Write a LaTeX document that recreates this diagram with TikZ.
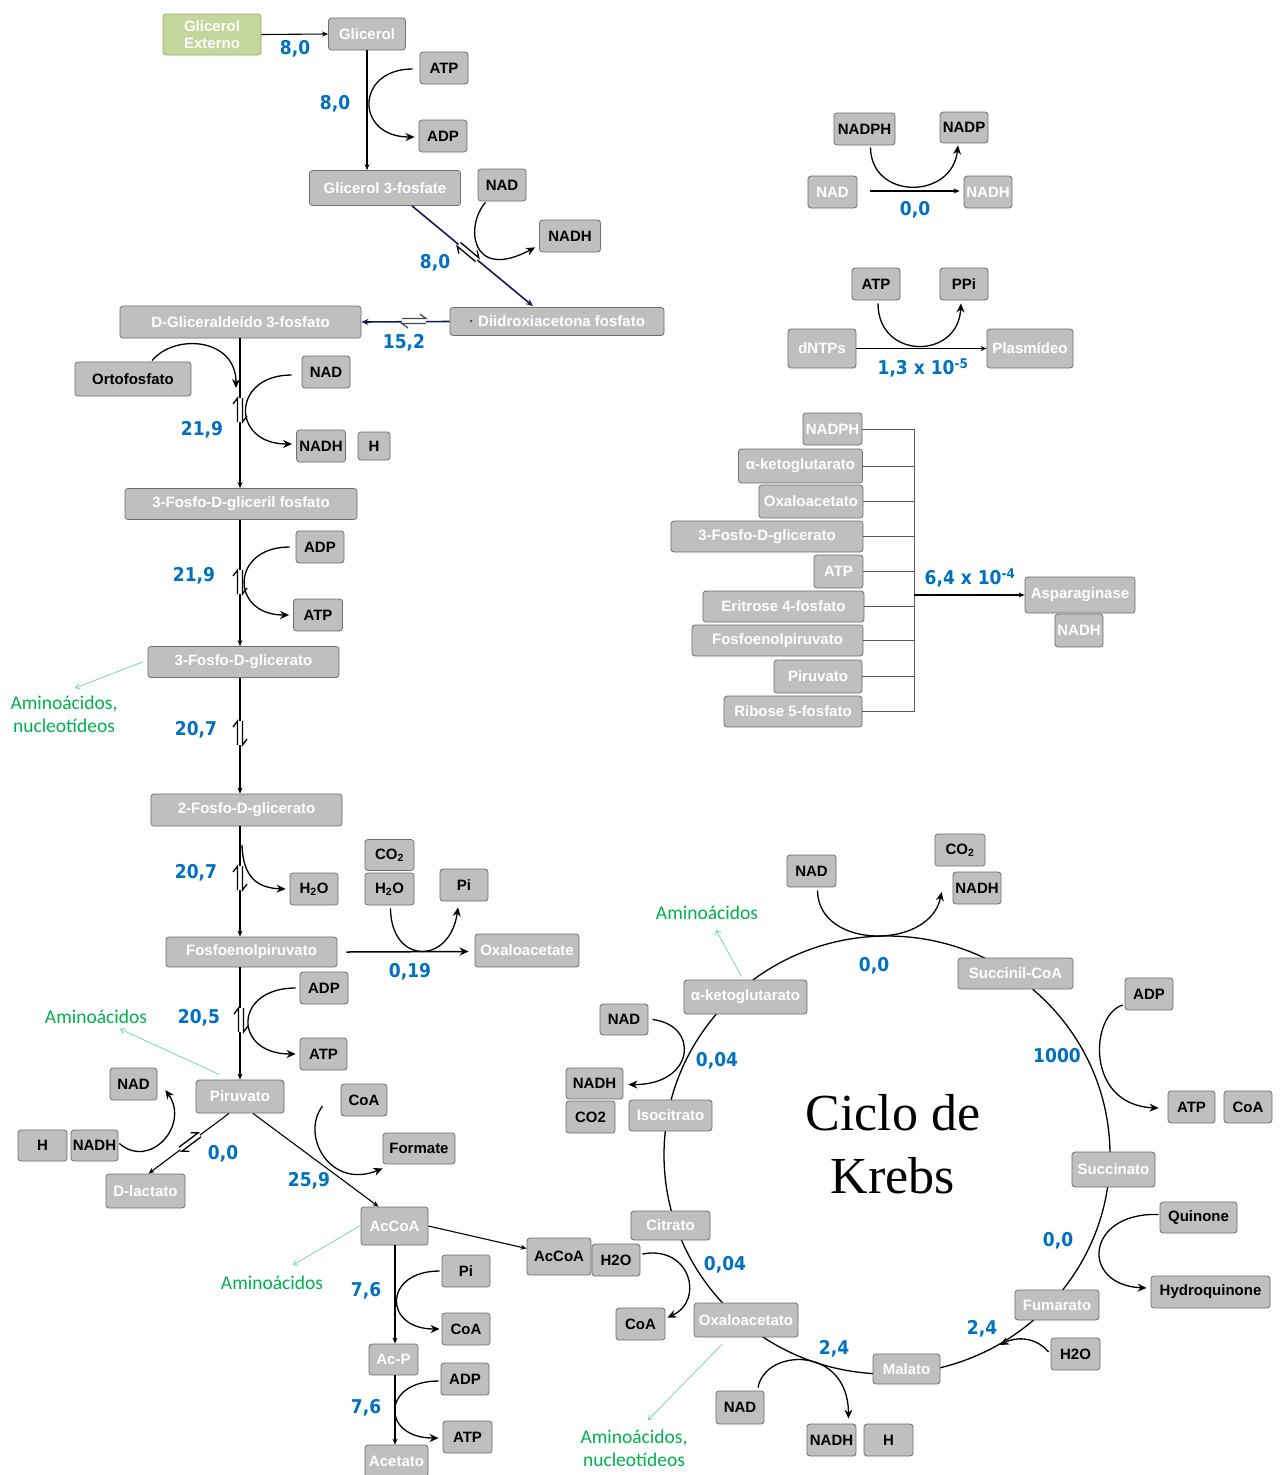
\documentclass[tikz,border=0pt]{standalone}
\usepackage{fontspec}
\setmainfont{Liberation Sans}
\newfontfamily\numfont[FakeStretch=0.9]{DejaVu Sans}
\newfontfamily\grfont{Carlito}
\newfontfamily\krebsfont{Liberation Serif}
\usetikzlibrary{arrows.meta,calc}
\definecolor{boxfill}{HTML}{BFBFBF}
\definecolor{boxline}{HTML}{6E6E6E}
\definecolor{gfill}{HTML}{C3D69B}
\definecolor{gline}{HTML}{98B060}
\definecolor{numblue}{HTML}{0070C0}
\definecolor{grtext}{HTML}{00B050}
\definecolor{grline}{HTML}{66D98F}
\definecolor{navyl}{HTML}{17175E}
\definecolor{busgray}{HTML}{595959}
\newcommand\eqmark[4][black]{\begin{scope}[shift={(#2,#3)},rotate=#4]
 \fill[white] (-12,-5) rectangle (12,5);
 \draw[#1, line width=1.3pt] (-12,-2.5) -- (12,-2.5) -- (6,-7);
 \draw[#1, line width=1.3pt] (12,2.5) -- (-12,2.5) -- (-6,7);
\end{scope}}
\begin{document}
\begin{tikzpicture}[x=1pt,y=-1pt,
 mb/.style={draw=boxline, fill=boxfill, rounded corners=3pt, line width=0.8pt, inner sep=0pt, text=white, font=\bfseries\fontsize{15}{17}\selectfont, align=center},
 cb/.style={mb, text=black},
 sz/.style 2 args={minimum width=#1pt, minimum height=#2pt},
 num/.style={text=numblue, inner sep=0pt, font=\numfont\bfseries\fontsize{19}{21}\selectfont},
 grn/.style={text=grtext, inner sep=0pt, align=center, font=\grfont\fontsize{19.5}{23}\selectfont},
 ar/.style={-{Stealth[length=6pt,width=5pt]}, line width=1.1pt},
 car/.style={-{Stealth[length=9pt,width=8pt]}, line width=1.3pt},
 nar/.style={-{Stealth[length=7pt,width=6pt]}, line width=1.6pt, draw=navyl, color=navyl},
 garr/.style={-{Straight Barb[length=4pt,width=6pt]}, draw=grline, line width=0.7pt},
 bus/.style={draw=busgray, line width=0.7pt},
]
\useasboundingbox (0,0) rectangle (1283,1475);
\fill[white] (0,0) rectangle (1283,1475);

% Krebs cycle ring
\draw[line width=1.3pt] (887,1155) ellipse [x radius=223, y radius=219];
\node[inner sep=0pt, font=\krebsfont\fontsize{52}{60}\selectfont] (kt1) at (893,1113) {Ciclo de};
\node[inner sep=0pt, font=\krebsfont\fontsize{52}{60}\selectfont] (kt2) at (893,1176) {Krebs};

% ---------- left pathway nodes ----------
\node[mb, fill=gfill, draw=gline, sz={98}{41}] (gext) at (212,34.5) {Glicerol\\Externo};
\node[mb, sz={77}{32}] (gly) at (367,34) {Glicerol};
\node[cb, sz={48}{32}] (atp1) at (444,68) {ATP};
\node[cb, sz={48}{32}] (adp1) at (443,136) {ADP};
\node[mb, sz={151}{35}] (g3p) at (385,188) {Glicerol 3-fosfate};
\node[cb, sz={48}{32}] (nad1) at (502,185) {NAD};
\node[cb, sz={61}{32}] (nadh1) at (570,236) {NADH};
\node[mb, sz={214}{28}] (dhap) at (557,321.5) {\textcolor{black!70}{·} Diidroxiacetona fosfato};
\node[mb, sz={241}{32}] (gap) at (240.5,322) {D-Gliceraldeído 3-fosfato};
\node[cb, sz={116}{34}] (orto) at (133,379) {Ortofosfato};
\node[cb, sz={48}{32}] (nad2) at (326,372) {NAD};
\node[cb, sz={49}{32}] (nadh2) at (321,446) {NADH};
\node[cb, sz={32}{28}] (h1) at (374,446) {H};
\node[mb, sz={232}{31}] (pgp) at (241,504) {3-Fosfo-D-gliceril fosfato};
\node[cb, sz={48}{32}] (adp2) at (320,547) {ADP};
\node[cb, sz={49}{32}] (atp2) at (318,615) {ATP};
\node[mb, sz={191}{31}] (pg3) at (243.5,662) {3-Fosfo-D-glicerato};
\node[mb, sz={191}{32}] (pg2) at (246.5,810) {2-Fosfo-D-glicerato};
\node[cb, sz={48}{32}] (h2o1) at (314,889) {H\textsubscript{2}O};
\node[cb, sz={49}{31}] (co2a) at (389.5,855) {CO\textsubscript{2}};
\node[cb, sz={49}{32}] (h2o2) at (389.5,889) {H\textsubscript{2}O};
\node[cb, sz={48}{32}] (pi1) at (464,885) {Pi};
\node[mb, sz={171}{30}] (pep) at (251.5,952) {Fosfoenolpiruvato};
\node[mb, sz={104}{33}] (oxa1) at (527,950.5) {Oxaloacetate};
\node[cb, sz={48}{32}] (adp3) at (324,988) {ADP};
\node[cb, sz={47}{32}] (atp3) at (323.5,1054) {ATP};
\node[mb, sz={88}{33}] (pir) at (240,1096.5) {Piruvato};
\node[cb, sz={47}{32}] (nad3) at (133.5,1084) {NAD};
\node[cb, sz={49}{31}] (h2) at (42.5,1145.5) {H};
\node[cb, sz={47}{31}] (nadh3) at (94.5,1145.5) {NADH};
\node[mb, sz={79}{34}] (lac) at (145.5,1191) {D-lactato};
\node[cb, sz={46}{32}] (coa1) at (364,1100) {CoA};
\node[cb, sz={72}{31}] (form) at (419,1148.5) {Formate};
\node[mb, sz={67}{38}] (acc1) at (394.5,1226) {AcCoA};
\node[cb, sz={48}{32}] (pi2) at (466,1271) {Pi};
\node[cb, sz={48}{32}] (coa2) at (466,1329) {CoA};
\node[mb, sz={49}{31}] (acp) at (393.5,1359.5) {Ac-P};
\node[cb, sz={48}{32}] (adp4) at (465,1379) {ADP};
\node[cb, sz={49}{32}] (atp4) at (467.5,1437) {ATP};
\node[mb, sz={63}{32}] (acet) at (396.5,1461) {Acetato};

% ---------- top right ----------
\node[cb, sz={61}{32}] (nadph1) at (864.5,129) {NADPH};
\node[cb, sz={48}{31}] (nadp1) at (964,127.5) {NADP};
\node[mb, sz={49}{32}] (nad4) at (832.5,192) {NAD};
\node[mb, sz={48}{32}] (nadh4) at (988,192) {NADH};
\node[cb, sz={48}{32}] (atp5) at (876,284) {ATP};
\node[cb, sz={48}{32}] (ppi) at (964,284) {PPi};
\node[mb, sz={68}{39}] (dntp) at (822,348.5) {dNTPs};
\node[mb, sz={86}{39}] (plas) at (1030,348.5) {Plasmídeo};

% ---------- middle right ----------
\node[mb, sz={59}{32}] (r1) at (832.5,429) {NADPH};
\node[mb, sz={124}{34}] (r2) at (800.5,466) {α-ketoglutarato};
\node[mb, sz={104}{33}] (r3) at (811,501.5) {Oxaloacetato};
\node[mb, sz={192}{31}] (r4) at (767,536.5) {3-Fosfo-D-glicerato};
\node[mb, sz={49}{33}] (r5) at (838.5,571.5) {ATP};
\node[mb, sz={161}{31}] (r6) at (783.5,606.5) {Eritrose 4-fosfato};
\node[mb, sz={171}{31}] (r7) at (777.5,640.5) {Fosfoenolpiruvato};
\node[mb, sz={88}{33}] (r8) at (818,676.5) {Piruvato};
\node[mb, sz={138}{31}] (r9) at (793,711.5) {Ribose 5-fosfato};
\node[mb, sz={110}{36}] (asp) at (1080,595) {Asparaginase};
\node[mb, sz={48}{33}] (nadh8) at (1079,630.5) {NADH};

% ---------- Krebs nodes ----------
\node[mb, sz={123}{34}] (akg) at (745.5,997) {α-ketoglutarato};
\node[mb, sz={115}{31}] (succoa) at (1015.5,973.5) {Succinil-CoA};
\node[cb, sz={49}{32}] (nad5) at (811.5,871) {NAD};
\node[cb, sz={50}{32}] (co2b) at (960,850) {CO\textsubscript{2}};
\node[cb, sz={48}{32}] (nadh5) at (977,888) {NADH};
\node[cb, sz={48}{31}] (nad6) at (624,1019.5) {NAD};
\node[cb, sz={57}{31}] (nadh6) at (594.5,1083.5) {NADH};
\node[cb, sz={49}{32}] (co2c) at (590.5,1117) {CO2};
\node[mb, sz={83}{31}] (iso) at (670.5,1115.5) {Isocitrato};
\node[mb, sz={79}{29}] (cit) at (670.5,1225.5) {Citrato};
\node[cb, sz={64}{37}] (acc2) at (559,1256.5) {AcCoA};
\node[cb, sz={48}{32}] (h2o3) at (616,1260) {H2O};
\node[cb, sz={49}{32}] (coa3) at (640.5,1324) {CoA};
\node[mb, sz={104}{34}] (oxa2) at (746,1320) {Oxaloacetato};
\node[mb, sz={67}{30}] (mal) at (906.5,1369) {Malato};
\node[cb, sz={48}{33}] (nad7) at (740,1407.5) {NAD};
\node[cb, sz={49}{32}] (nadh7) at (831.5,1440) {NADH};
\node[cb, sz={49}{32}] (h3) at (888.5,1440) {H};
\node[mb, sz={84}{30}] (fum) at (1057,1305) {Fumarato};
\node[cb, sz={49}{32}] (h2o4) at (1075.5,1354) {H2O};
\node[mb, sz={83}{35}] (succ) at (1113.5,1169.5) {Succinato};
\node[cb, sz={48}{32}] (adp5) at (1149,994) {ADP};
\node[cb, sz={47}{32}] (atp6) at (1191.5,1107) {ATP};
\node[cb, sz={48}{32}] (coa4) at (1248,1107) {CoA};
\node[cb, sz={77}{31}] (quin) at (1198.5,1217.5) {Quinone};
\node[cb, sz={119}{32}] (hq) at (1210.5,1292) {Hydroquinone};

% ---------- helper coordinates ----------
\coordinate (lx) at (240,0);
\coordinate (ax) at (395,0);
\coordinate (bx) at (914,0);
\coordinate (bmid) at (914,595);
\coordinate (o1) at (236,388);
\coordinate (hs1) at (242,845);
\coordinate (kc1) at (1000,1345);
\coordinate (ga1) at (75,688);
\coordinate (ga2) at (120,1029);
\coordinate (ga3) at (293,1265);
\coordinate (ga4) at (716,930);
\coordinate (ga5) at (648,1420);

% ---------- main connectors ----------
\draw[ar] (gext.east) -- (gly.west);
\draw[ar] (gly.south) -- (gly.south |- g3p.north);
\draw[nar] ($(g3p.south)+(27,0)$) -- ($(dhap.north)+(-24,-1)$);
\draw[nar] (dhap.west) -- (gap.east);
\draw[ar] (gap.south -| lx) -- (pgp.north -| lx);
\draw[ar] (pgp.south -| lx) -- (pg3.north -| lx);
\draw[ar] (pg3.south -| lx) -- (pg2.north -| lx);
\draw[ar] (pg2.south -| lx) -- (pep.north -| lx);
\draw[ar] (pep.south -| lx) -- (pir.north -| lx);
\draw[ar] ($(pir.south)+(-11,0)$) -- ($(lac.north)+(3,0)$);
\draw[ar] ($(pir.south)+(13,0)$) -- ($(acc1.north)+(-16,0)$);
\draw[ar] (acc1.east) -- ($(acc2.west)+(0,-8)$);
\draw[ar] (acc1.south -| ax) -- (acp.north -| ax);
\draw[ar] (acp.south -| ax) -- (acet.north -| ax);
\draw[car, line width=1.5pt] ($(pep.east)+(9,0)$) -- ($(oxa1.west)+(-6,1)$);

% equilibrium marks
\eqmark{468}{252}{-40}
\eqmark[black!70]{414}{321}{0}
\eqmark{240}{410}{90}
\eqmark{240}{582}{90}
\eqmark{240}{733}{90}
\eqmark{240}{878}{90}
\eqmark{241}{1020}{90}
\eqmark{190}{1142}{37}

% cofactor curves, left
\draw[car] ($(atp1.west)+(-7,1)$) .. controls (355,69) and (355,137) .. ($(adp1.west)+(-4,1)$);
\draw[car] ($(nad1.south west)+(8,1)$) .. controls (465,225) and (470,282) .. ($(nadh1.south west)+(-4,-5)$);
\draw[car] ($(orto.north)+(19,-1)$) .. controls (175,333) and (236,338) .. (o1);
\draw[car] ($(nad2.west)+(-10,3)$) .. controls (231,375) and (231,444) .. ($(nadh2.west)+(-4,-2)$);
\draw[car] ($(adp2.west)+(-6,0)$) .. controls (230,547) and (230,615) .. ($(atp2.west)+(-4,0)$);
\draw[car] (hs1) .. controls (243,878) and (258,888) .. ($(h2o1.west)+(-4,0)$);
\draw[car] ($(h2o2.south)+(1,3)$) .. controls (391,965) and (450,965) .. ($(pi1.south)+(-6,6)$);
\draw[car] ($(adp3.west)+(-4,0)$) .. controls (233,988) and (233,1054) .. ($(atp3.west)+(-4,0)$);
\draw[car] ($(nadh3.east)+(1,-2)$) .. controls (150,1170) and (190,1125) .. ($(nad3.east)+(8,6)$);
\draw[car] ($(coa1.west)+(-18,6)$) .. controls (300,1135) and (330,1190) .. ($(form.south west)+(0,4)$);
\draw[car] ($(pi2.west)+(-2,0)$) .. controls (383,1271) and (383,1329) .. ($(coa2.west)+(-2,0)$);
\draw[car] ($(adp4.west)+(-2,2)$) .. controls (381,1381) and (381,1438) .. ($(atp4.west)+(-4,1)$);

% top right
\draw[car] ($(nadph1.south)+(6,2)$) .. controls (871,200) and (952,200) .. ($(nadp1.south)+(-6,2)$);
\draw[ar, line width=1.4pt] ($(nad4.east)+(13,-1)$) -- ($(nadh4.west)+(-4,-1)$);
\draw[car] ($(atp5.south)+(2,3)$) .. controls (878,360) and (958,360) .. ($(ppi.south)+(-3,3)$);
\draw[ar, line width=1.4pt] (dntp.east) -- (plas.west);

% middle right bus
\foreach \r in {r1,r2,r3,r4,r5,r6,r7,r8,r9}{\draw[bus] (\r.east) -- (\r.east -| bx);}
\draw[bus] (r1.east -| bx) -- (r9.east -| bx);
\draw[ar, line width=1.3pt] (bmid) -- (asp.west);

% Krebs cofactor curves
\draw[car] ($(nad5.south)+(6,3)$) .. controls (818,950) and (930,950) .. ($(nadh5.west)+(-11,4)$);
\draw[car] ($(nad6.east)+(4,0)$) .. controls (700,1025) and (695,1085) .. ($(nadh6.east)+(5,1)$);
\draw[car] ($(h2o3.east)+(2,-6)$) .. controls (690,1245) and (705,1300) .. ($(coa3.north east)+(2,10)$);
\draw[car] ($(nad7.north)+(18,-3)$) .. controls (765,1348) and (848,1345) .. ($(nadh7.north)+(17,-5)$);
\draw[car] ($(h2o4.west)+(-2,-2)$) .. controls (1035,1336) and (1015,1337) .. (kc1);
\draw[car] ($(adp5.west)+(-2,11)$) .. controls (1090,1015) and (1085,1105) .. ($(atp6.west)+(-9,1)$);
\draw[car] ($(quin.west)+(-1,-3)$) .. controls (1085,1212) and (1080,1285) .. ($(hq.west)+(-4,-4)$);

% green arrows
\draw[garr] ($(pg3.west)+(-5,0)$) -- (ga1);
\draw[garr] ($(pir.north west)+(24,-5)$) -- (ga2);
\draw[garr] ($(acc1.west)+(-1,0)$) -- (ga3);
\draw[garr] ($(akg.north)+(-4,-3)$) -- (ga4);
\draw[garr] ($(oxa2.south)+(-24,7)$) -- (ga5);

% green labels
\node[grn] (gt1) at (64,714) {Aminoácidos,\\nucleotídeos};
\node[grn] (gt2) at (96,1017) {Aminoácidos};
\node[grn] (gt3) at (272,1283) {Aminoácidos};
\node[grn] (gt4) at (707,913) {Aminoácidos};
\node[grn] (gt5) at (634,1448) {Aminoácidos,\\nucleotídeos};

% numbers
\node[num] (n1) at (295,49) {8,0};
\node[num] (n2) at (335,104) {8,0};
\node[num] (n3) at (435,263) {8,0};
\node[num] (n4) at (404,343) {15,2};
\node[num] (n5) at (202,430) {21,9};
\node[num] (n6) at (194,576) {21,9};
\node[num] (n7) at (196,730) {20,7};
\node[num] (n8) at (196,873) {20,7};
\node[num] (n9) at (410,972) {0,19};
\node[num] (n10) at (199,1018) {20,5};
\node[num] (n11) at (223,1154) {0,0};
\node[num] (n12) at (309,1181) {25,9};
\node[num] (n13) at (366,1291) {7,6};
\node[num] (n14) at (366,1408) {7,6};
\node[num] (n15) at (915,210) {0,0};
\node[num] (n16) at (923,368) {1,3 x 10\textsuperscript{-5}};
\node[num] (n17) at (970,578) {6,4 x 10\textsuperscript{-4}};
\node[num] (n18) at (874,966) {0,0};
\node[num] (n19) at (717,1061) {0,04};
\node[num] (n20) at (1057,1056) {1000};
\node[num] (n21) at (1058,1241) {0,0};
\node[num] (n22) at (725,1265) {0,04};
\node[num] (n23) at (834,1349) {2,4};
\node[num] (n24) at (982,1329) {2,4};
\end{tikzpicture}
\end{document}
